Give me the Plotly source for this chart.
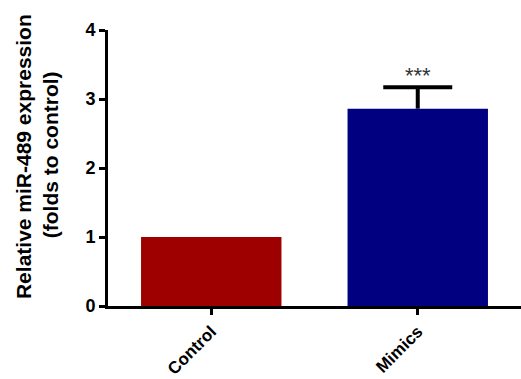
import plotly.graph_objects as go

# Relative expression data
groups = ["Control", "Mimics"]
means = [1.0, 2.86]
sem_upper = [0.0, 0.31]
bar_colors = ["#9E0000", "#000080"]
y_ticks = [0, 1, 2, 3, 4]
significance = "***"

FONT = "Arial, 'Liberation Sans', Helvetica, sans-serif"
BAR_WIDTH = 0.68
CAP_HALF = 0.167

fig = go.Figure()
fig.add_trace(go.Bar(
    x=groups,
    y=means,
    width=BAR_WIDTH,
    marker=dict(color=bar_colors, line=dict(width=0)),
    showlegend=False,
))

# Upper-only error bars (stem + cap), drawn in data coordinates
for i, (m, e) in enumerate(zip(means, sem_upper)):
    if e <= 0:
        continue
    fig.add_shape(type="line", xref="x", yref="y",
                  x0=i, x1=i, y0=m, y1=m + e,
                  line=dict(color="black", width=4), layer="above")
    fig.add_shape(type="line", xref="x", yref="y",
                  x0=i - CAP_HALF, x1=i + CAP_HALF, y0=m + e, y1=m + e,
                  line=dict(color="black", width=4), layer="above")

# Significance marker above the Mimics error bar
fig.add_annotation(
    x=groups[1], y=means[1] + sem_upper[1],
    xref="x", yref="y",
    text=significance, showarrow=False,
    yanchor="bottom", yshift=-3,
    font=dict(family=FONT, size=22, color="#333333"),
)

# Two-line y-axis title
fig.add_annotation(
    x=-0.206, y=0.543, xref="paper", yref="paper",
    text="<b>Relative miR-489 expression</b>", textangle=-90,
    showarrow=False, xanchor="center", yanchor="middle",
    font=dict(family=FONT, size=21, color="black"),
)
fig.add_annotation(
    x=-0.140, y=0.547, xref="paper", yref="paper",
    text="<b>(folds to control)</b>", textangle=-90,
    showarrow=False, xanchor="center", yanchor="middle",
    font=dict(family=FONT, size=21, color="black"),
)

fig.update_layout(
    width=521, height=379,
    margin=dict(l=108, r=0, t=30, b=73, autoexpand=False),
    paper_bgcolor="white", plot_bgcolor="white",
    font=dict(family=FONT, color="black"),
)
fig.update_xaxes(
    range=[-0.5, 1.5],
    automargin=False,
    showline=True, linecolor="black", linewidth=3,
    ticks="outside", ticklen=6, tickwidth=3, tickcolor="black",
    tickangle=-45,
    tickfont=dict(family=FONT, size=17, color="black", weight="bold"),
    showgrid=False, zeroline=False,
)
fig.update_yaxes(
    range=[0, 4],
    automargin=False,
    tickvals=y_ticks,
    showline=True, linecolor="black", linewidth=3,
    ticks="outside", ticklen=6, tickwidth=3, tickcolor="black",
    tickfont=dict(family=FONT, size=18, color="black", weight="bold"),
    showgrid=False, zeroline=False,
)

fig.write_html("out.html")
